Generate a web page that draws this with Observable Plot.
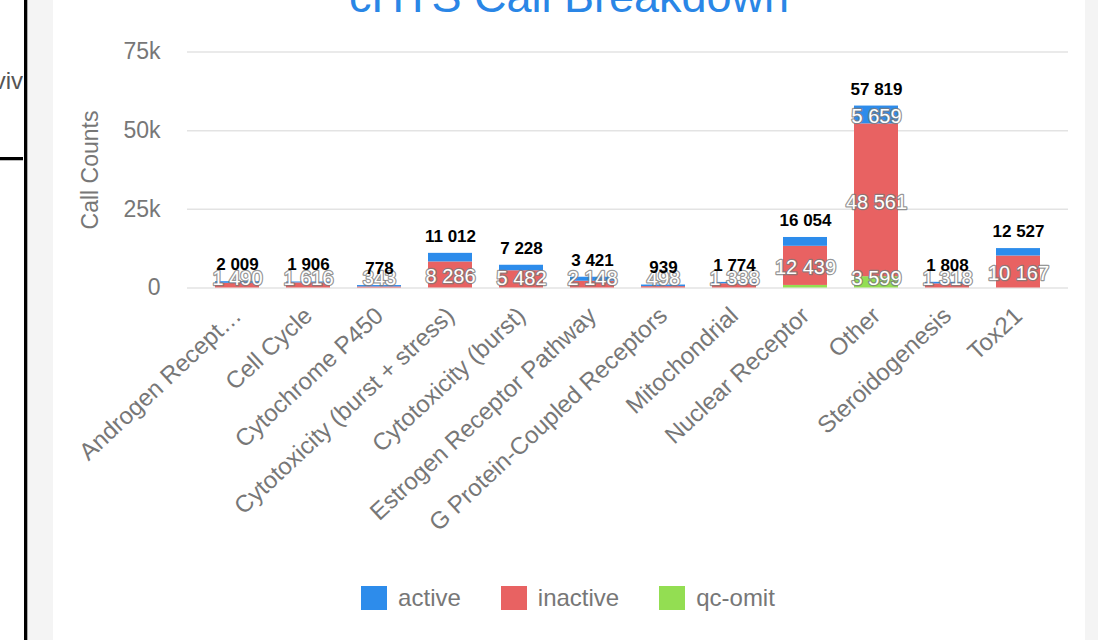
<!DOCTYPE html>
<html>
<head>
<meta charset="utf-8">
<script src="https://cdn.jsdelivr.net/npm/d3@7"></script>
<script src="https://cdn.jsdelivr.net/npm/@observablehq/plot@0.6"></script>
<style>
  html, body { margin: 0; padding: 0; background: #fff; width: 1098px; height: 640px; overflow: hidden; position: relative; font-family: "Liberation Sans", Arial, sans-serif; }
  .abs { position: absolute; }
  #viv { left: -20px; width: 43px; top: 66px; font-size: 24px; line-height: 30px; color: #555; text-align: right; overflow: hidden; white-space: nowrap; }
  #vline { left: 24px; top: 0; width: 3px; height: 640px; background: #000; border-right: 1px solid #aaa; }
  #hline { left: 0; top: 157px; width: 23px; height: 3px; background: #000; border-bottom: 1px solid #bbb; }
  #strip { left: 28px; top: 0; width: 25px; height: 640px; background: #f4f4f4; }
  #rstrip { left: 1085px; top: 0; width: 13px; height: 640px; background: #f4f4f4; }
  #panel { left: 53px; top: 0; width: 1032px; height: 640px; background: #fff; }
  #title { left: 53px; width: 1032px; top: -26px; text-align: center; font-size: 45px; line-height: 46px; color: #2a86e6; white-space: nowrap; }
  #chart { left: 52px; top: 0; }
  #legend { left: 52px; width: 1032px; top: 586px; display: flex; justify-content: center; gap: 40px; font-size: 24px; line-height: 24px; color: #777; }
  #legend .item { display: flex; align-items: center; }
  #legend .sw { width: 26px; height: 24px; margin-right: 11px; }
</style>
</head>
<body>
<div id="viv" class="abs">viv</div>
<div id="strip" class="abs"></div>
<div id="vline" class="abs"></div>
<div id="hline" class="abs"></div>
<div id="rstrip" class="abs"></div>
<div id="panel" class="abs"></div>
<div id="chart" class="abs"></div>
<div id="title" class="abs">cHTS Call Breakdown</div>
<div id="legend" class="abs"></div>
<script>
const categories = ["Androgen Recept…", "Cell Cycle", "Cytochrome P450", "Cytotoxicity (burst + stress)", "Cytotoxicity (burst)", "Estrogen Receptor Pathway", "G Protein-Coupled Receptors", "Mitochondrial", "Nuclear Receptor", "Other", "Steroidogenesis", "Tox21"];
const active   = [519, 290, 435, 2726, 1746, 1273, 498, 436, 2800, 5659, 490, 2360];
const inactive = [1490, 1616, 343, 8286, 5482, 2148, 441, 1338, 12439, 48561, 1318, 10167];
const qcOmit   = [0, 0, 0, 0, 0, 0, 0, 0, 815, 3599, 0, 0];
const totals   = [2009, 1906, 778, 11012, 7228, 3421, 939, 1774, 16054, 57819, 1808, 12527];
const statuses = ["active", "inactive", "qc-omit"];
const colors   = ["#2d8ceb", "#e86262", "#93de52"];
const yTicks   = [0, 25000, 50000, 75000];
const labelledActive = ["G Protein-Coupled Receptors", "Other"];
const labelledInactive = categories.filter(c => c !== "G Protein-Coupled Receptors");
const labelledQc = ["Other"];

const fmt = v => d3.format(",")(v).replace(/,/g, " ");
const series = {"active": active, "inactive": inactive, "qc-omit": qcOmit};
const labelled = {"active": labelledActive, "inactive": labelledInactive, "qc-omit": labelledQc};

// stack bottom-up: qc-omit, inactive, active
const rows = [];
categories.forEach((c, i) => {
  let base = 0;
  for (const s of ["qc-omit", "inactive", "active"]) {
    const v = series[s][i];
    rows.push({category: c, status: s, value: v, y1: base, y2: base + v});
    base += v;
  }
});
const labelRows = rows
  .filter(r => r.value > 0 && labelled[r.status].includes(r.category))
  .map(r => ({...r, ly: Math.max((r.y1 + r.y2) / 2, 3600)}));
const totalRows = categories.map((c, i) => ({category: c, total: totals[i]}));

const font = "'Liberation Sans', Arial, sans-serif";
const chart = Plot.plot({
  width: 1033,
  height: 560,
  marginLeft: 135,
  marginRight: 17,
  marginTop: 51.5,
  marginBottom: 272.5,
  style: {fontFamily: font, fontSize: "23px", color: "#777", background: "transparent", overflow: "visible"},
  x: {domain: categories, padding: 0.38, label: null},
  y: {domain: [0, 75000], label: null},
  color: {domain: statuses, range: colors},
  marks: [
    Plot.ruleY(yTicks, {stroke: "#e3e3e3", strokeWidth: 1.5}),
    Plot.barY(rows, {x: "category", y1: "y1", y2: "y2", fill: "status"}),
    Plot.text(labelRows, {x: "category", y: "ly", text: d => fmt(d.value), fill: "white", stroke: "#7a7a7a", strokeWidth: 2.5, strokeOpacity: 0.8, fontSize: 20, dy: 2}),
    Plot.text(totalRows, {x: "category", y: "total", text: d => fmt(d.total), dy: -17, fontWeight: "bold", fontSize: 17, fill: "#000"}),
    Plot.axisY({ticks: yTicks, tickFormat: d => d === 0 ? "0" : d / 1000 + "k", tickSize: 0, tickPadding: 27, label: null}),
    Plot.axisX({tickRotate: -43, tickSize: 0, tickPadding: 24, fontSize: 24, label: null}),
    Plot.text(["Call Counts"], {text: d => d, frameAnchor: "left", textAnchor: "middle", rotate: -90, dx: -97, fill: "#777", fontSize: 23})
  ]
});
document.getElementById("chart").appendChild(chart);

const legend = document.getElementById("legend");
statuses.forEach((s, i) => {
  const item = document.createElement("div");
  item.className = "item";
  const sw = document.createElement("div");
  sw.className = "sw";
  sw.style.background = colors[i];
  const t = document.createElement("span");
  t.textContent = s;
  item.appendChild(sw);
  item.appendChild(t);
  legend.appendChild(item);
});
</script>
</body>
</html>
